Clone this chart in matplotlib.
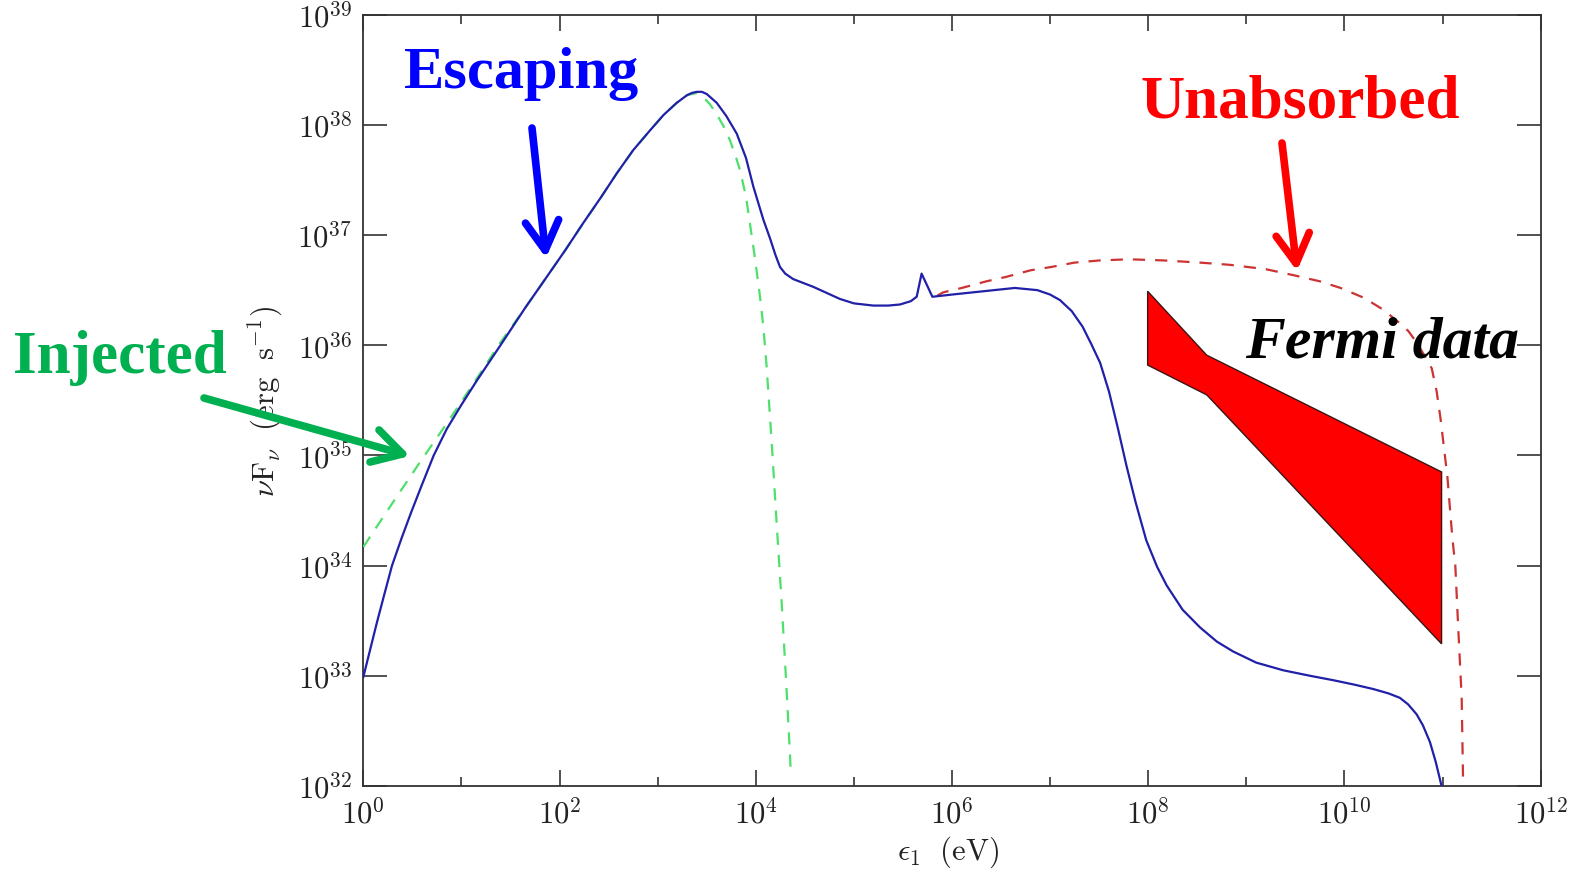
import matplotlib
matplotlib.use('Agg')
import matplotlib.pyplot as plt
import numpy as np
from matplotlib.ticker import NullLocator

plt.rcParams['mathtext.fontset'] = 'cm'

# log10(energy / eV) and log10(nu F_nu / erg s^-1)
escaping_logE = [0.0, 0.07, 0.14, 0.214, 0.292, 0.39, 0.49, 0.60, 0.717, 0.85, 1.0,
                 1.15, 1.30, 1.42, 1.65, 1.869,
                 2.056, 2.242, 2.42, 2.583, 2.75, 2.922, 3.06, 3.194, 3.30, 3.35, 3.40, 3.45,
                 3.50, 3.602, 3.70, 3.806, 3.90, 3.975, 4.077, 4.145, 4.20, 4.247, 4.30, 4.382,
                 4.586, 4.858, 5.00, 5.198, 5.35, 5.47, 5.58, 5.64, 5.69, 5.80, 6.0, 6.32,
                 6.64, 6.87, 7.00, 7.10, 7.22, 7.33, 7.42, 7.51, 7.60, 7.69, 7.78, 7.87,
                 7.98, 8.09, 8.188, 8.35, 8.527, 8.70, 8.867, 9.1, 9.376, 9.65, 9.886,
                 10.1, 10.293, 10.45, 10.565, 10.65, 10.736, 10.80, 10.871, 10.93, 10.99]
escaping_logF = [32.99, 33.24, 33.49, 33.74, 34.00, 34.25, 34.49, 34.74, 35.00, 35.24, 35.46,
                 35.67, 35.87, 36.03, 36.34, 36.62,
                 36.86, 37.11, 37.34, 37.56, 37.77, 37.95, 38.09, 38.20, 38.27, 38.29, 38.30, 38.30,
                 38.28, 38.20, 38.08, 37.92, 37.70, 37.44, 37.14, 36.97, 36.82, 36.71, 36.65, 36.60,
                 36.53, 36.42, 36.38, 36.36, 36.36, 36.37, 36.40, 36.44, 36.65, 36.44, 36.46, 36.49,
                 36.52, 36.50, 36.46, 36.41, 36.31, 36.17, 36.01, 35.84, 35.58, 35.25, 34.90, 34.58,
                 34.23, 33.99, 33.82, 33.60, 33.44, 33.31, 33.22, 33.12, 33.05, 33.00, 32.96,
                 32.92, 32.88, 32.84, 32.80, 32.74, 32.65, 32.55, 32.40, 32.22, 32.00]

injected_logE = [0.0, 0.306, 0.578, 0.85, 1.121, 1.393, 1.65, 1.869, 2.056, 2.242, 2.42,
                 2.583, 2.75, 2.922, 3.06, 3.194, 3.30, 3.40, 3.465, 3.53, 3.60, 3.67,
                 3.737, 3.80, 3.839, 3.90, 3.941, 3.99, 4.043, 4.077, 4.111, 4.162,
                 4.213, 4.264, 4.308, 4.349, 4.356]
injected_logF = [34.17, 34.58, 34.94, 35.29, 35.65, 36.02, 36.34, 36.62, 36.86, 37.11, 37.34,
                 37.56, 37.77, 37.95, 38.09, 38.20, 38.27, 38.29, 38.25, 38.19, 38.10, 37.99,
                 37.86, 37.70, 37.59, 37.35, 37.10, 36.80, 36.44, 36.17, 35.80, 35.12,
                 34.38, 33.66, 32.97, 32.28, 32.12]

unabsorbed_logE = [5.85, 5.91, 6.1, 6.35, 6.55, 6.8, 7.01, 7.25, 7.51, 7.8, 8.15, 8.527,
                   8.83, 9.2, 9.51, 9.75, 9.96, 10.2, 10.40, 10.55, 10.65, 10.74, 10.82,
                   10.89, 10.94, 10.98, 11.05, 11.10, 11.13, 11.16, 11.195, 11.21]
unabsorbed_logF = [36.45, 36.48, 36.52, 36.58, 36.62, 36.68, 36.71, 36.75, 36.77, 36.78, 36.77, 36.75,
                   36.73, 36.69, 36.63, 36.58, 36.52, 36.43, 36.32, 36.21, 36.13, 36.02, 35.90,
                   35.79, 35.58, 35.33, 34.80, 34.25, 34.00, 33.43, 32.80, 32.00]

fermi_logE = [7.994, 8.596, 10.99, 10.99, 8.596, 7.994]
fermi_logF = [36.49, 35.91, 34.85, 33.29, 35.55, 35.82]

xtick_exp = [0, 2, 4, 6, 8, 10, 12]
xminor_exp = [1, 3, 5, 7, 9, 11]
ytick_exp = [32, 33, 34, 35, 36, 37, 38, 39]

W, H = 1575, 874


def fp(x, y):
    # pixel position (from top-left) to figure fraction
    return x / W, 1 - y / H


fig = plt.figure(figsize=(W / 100, H / 100), dpi=100)
ax = fig.add_axes([0.2307, 0.1007, 0.7475, 0.8825])

ax.fill(10 ** np.array(fermi_logE), 10 ** np.array(fermi_logF),
        facecolor='#ff0000', edgecolor='#3a1515', lw=1.0, zorder=2)
ax.plot(10 ** np.array(injected_logE), 10 ** np.array(injected_logF),
        color='#4ee06c', lw=1.6, ls=(0, (5.5, 4.5)), zorder=3)
ax.plot(10 ** np.array(unabsorbed_logE), 10 ** np.array(unabsorbed_logF),
        color='#cc3333', lw=1.6, ls=(0, (5.5, 4.5)), zorder=3)
ax.plot(10 ** np.array(escaping_logE), 10 ** np.array(escaping_logF),
        color='#2020a8', lw=1.6, zorder=4)

ax.set_xscale('log')
ax.set_yscale('log')
ax.set_xlim(1, 1e12)
ax.set_ylim(1e32, 1e39)

ax.set_xticks([10.0 ** k for k in xtick_exp])
ax.set_xticklabels([r'$10^{%d}$' % k for k in xtick_exp])
ax.set_xticks([10.0 ** k for k in xminor_exp], minor=True)
ax.xaxis.set_minor_formatter(plt.NullFormatter())
ax.set_yticks([10.0 ** k for k in ytick_exp])
ax.set_yticklabels([r'$10^{%d}$' % k for k in ytick_exp])
ax.yaxis.set_minor_locator(NullLocator())

ax.tick_params(which='both', direction='in', top=True, right=True,
               colors='#333333', labelcolor='#222222', labelsize=22, width=1.2)
ax.tick_params(axis='x', which='major', length=11.5, pad=9)
ax.tick_params(axis='x', which='minor', length=6.5)
ax.tick_params(axis='y', which='major', length=17, pad=8)
for s in ax.spines.values():
    s.set_color('#333333')
    s.set_linewidth(1.3)

ax.set_xlabel(r'$\epsilon_1\ \ \mathrm{(eV)}$', fontsize=22, color='#222222', va='center')
ax.xaxis.set_label_coords(0.497, -0.0856)
ax.set_ylabel(r'$\nu\mathrm{F}_\nu\ \ \mathrm{(erg\ \ s^{-1})}$', fontsize=22, color='#222222', va='center')
ax.yaxis.set_label_coords(-0.0826, 0.498)

serif = 'Liberation Serif'
fig.text(*fp(404, 88), 'Escaping', color='#0000ff', fontsize=43.5, fontweight='bold',
         family=serif, ha='left', va='baseline')
fig.text(*fp(1140, 118), 'Unabsorbed', color='#ff0000', fontsize=44, fontweight='bold',
         family=serif, ha='left', va='baseline')
fig.text(*fp(13, 373), 'Injected', color='#00b050', fontsize=44, fontweight='bold',
         family=serif, ha='left', va='baseline')
fig.text(*fp(1245, 357), 'Fermi data', color='black', fontsize=43, fontweight='bold',
         style='italic', family=serif, ha='left', va='baseline', zorder=10)


def arrow(tail, tip, color):
    ax.annotate('', xy=fp(*tip), xycoords='figure fraction',
                xytext=fp(*tail), textcoords='figure fraction', annotation_clip=False,
                arrowprops=dict(arrowstyle='->,head_length=0.42,head_width=0.24',
                                lw=5.5, color=color, shrinkA=0, shrinkB=0,
                                mutation_scale=50))


arrow((532, 128), (546, 258), '#0000ff')
arrow((1282, 143), (1297, 271), '#ff0000')
arrow((204, 398), (410, 456), '#00b050')

fig.savefig('out.png', dpi=100)
